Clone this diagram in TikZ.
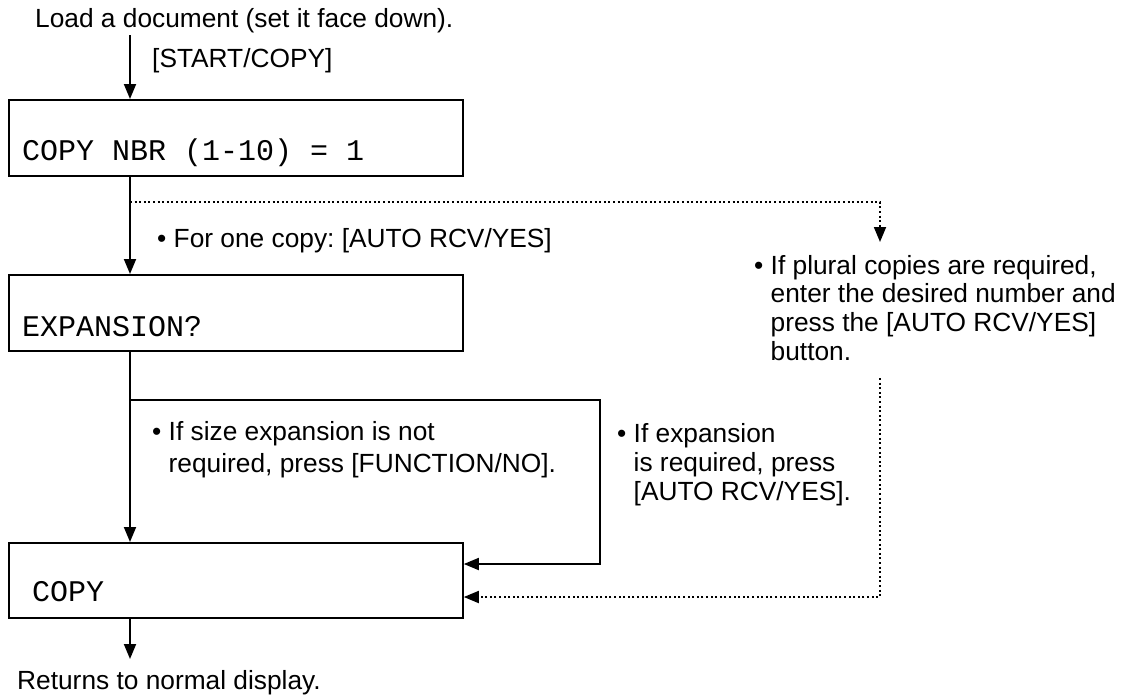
\documentclass[tikz,border=0pt]{standalone}
\usepackage{fontspec}
\setmainfont{Liberation Sans}
\newfontfamily\monofont{Liberation Mono}
\usetikzlibrary{arrows.meta}
\frenchspacing
\tikzset{
  box/.style={draw, line width=1.8pt, anchor=north west, inner sep=0pt},
  lbl/.style={anchor=base west, inner sep=0pt, font=\fontsize{26.3}{28.7}\selectfont},
  mono/.style={anchor=base west, inner sep=0pt, font=\monofont\fontsize{30}{32}\selectfont},
  conn/.style={line width=1.8pt, -{Triangle[length=15pt,width=12pt]}},
  dconn/.style={line width=1.8pt, dash pattern=on 2pt off 2.6pt, -{Triangle[length=15pt,width=12pt]}},
}
\begin{document}
\begin{tikzpicture}[x=1pt,y=-1pt]
\useasboundingbox (0,0) rectangle (1137,697);
\coordinate (spine) at (130,0);
\coordinate (dx) at (880,0);
\coordinate (ex) at (600,0);

\node[lbl] (load) at (35,27) {Load a document (set it face down).};
\node[lbl] (startcopy) at (152,67) {[START/COPY]};

\node[box, minimum width=454pt, minimum height=76pt] (b1) at (8,99) {};
\node[mono] (t1) at (22,160) {COPY NBR (1-10) = 1};

\node[lbl] (one) at (157,247) {\textbullet\ For one copy: [AUTO RCV/YES]};

\node[box, minimum width=454pt, minimum height=76pt] (b2) at (8,274) {};
\node[mono] (t2) at (22,336) {EXPANSION?};

\node[lbl] (plural) at (754,274) {\textbullet\ \begin{tabular}[t]{@{}l@{}}If plural copies are required,\\enter the desired number and\\press the {[AUTO RCV/YES]}\\button.\end{tabular}};

\node[lbl, font=\fontsize{26.3}{32}\selectfont] (notreq) at (152,440) {\textbullet\ \begin{tabular}[t]{@{}l@{}}If size expansion is not\\required, press {[FUNCTION/NO]}.\end{tabular}};

\node[lbl, font=\fontsize{26.3}{29}\selectfont] (isreq) at (617,442) {\textbullet\ \begin{tabular}[t]{@{}l@{}}If expansion\\is required, press\\{}{[AUTO RCV/YES]}.\end{tabular}};

\node[box, minimum width=454pt, minimum height=75pt] (b3) at (8,542) {};
\node[mono] (t3) at (32,601) {COPY};

\node[lbl] (ret) at (17,689) {Returns to normal display.};

\coordinate (a0) at (130,35);
\coordinate (a7) at (130,659);
\coordinate (dsplit) at (130,202);
\coordinate (dend) at (880,242);
\coordinate (esplit) at (130,400);
\coordinate (ecorner) at (600,564);
\coordinate (dtop) at (880,378);
\coordinate (dcorner) at (880,597);

\draw[conn] (a0) -- (b1.north -| spine);
\draw[conn] (b1.south -| spine) -- (b2.north -| spine);
\draw[dconn] (dsplit) -- (dsplit -| dx) -- (dend);
\draw[conn] (b2.south -| spine) -- (b3.north -| spine);
\draw[conn] (esplit) -- (esplit -| ex) -- (ecorner) -- (b3.east |- ecorner);
\draw[dconn] (dtop) -- (dcorner) -- (b3.east |- dcorner);
\draw[conn] (b3.south -| spine) -- (a7);
\end{tikzpicture}
\end{document}
